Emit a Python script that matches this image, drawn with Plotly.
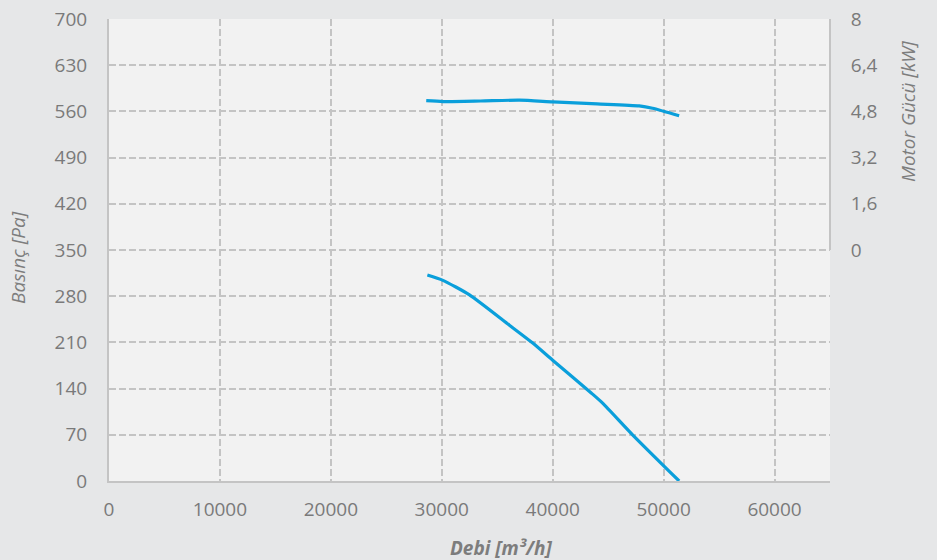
import plotly.graph_objects as go

# Pressure curve (left axis, Pa)
flow_p = [28700, 30100, 32500, 36100, 38200, 40000, 43500, 44500, 47200, 51400]
pressure = [312, 304, 282, 236, 209, 183, 133, 118, 70, 0]

# Motor power curve (right axis, kW)
flow_m = [28600, 30100, 33500, 37000, 40000, 44000, 47800, 49000, 51400]
power = [5.17, 5.14, 5.16, 5.19, 5.13, 5.06, 4.99, 4.91, 4.65]

x_ticks = [0, 10000, 20000, 30000, 40000, 50000, 60000]
x_labels = ["0", "10000", "20000", "30000", "40000", "50000", "60000"]
y_ticks = [0, 70, 140, 210, 280, 350, 420, 490, 560, 630, 700]
y2_ticks = [0, 1.6, 3.2, 4.8, 6.4, 8]
y2_labels = ["0", "1,6", "3,2", "4,8", "6,4", "8"]

line_color = "#0a9fdb"
grid_color = "#c4c4c4"
tick_color = "#7a7a7a"
font_family = "Open Sans"
dash = "7px,3px"

fig = go.Figure()
fig.add_trace(go.Scatter(x=flow_p, y=pressure, mode="lines", line=dict(color=line_color, width=3.2, shape="spline", smoothing=0.6), yaxis="y", showlegend=False))
fig.add_trace(go.Scatter(x=flow_m, y=power, mode="lines", line=dict(color=line_color, width=3.2, shape="spline", smoothing=0.6), yaxis="y2", showlegend=False))

fig.update_layout(
    width=937, height=560,
    margin=dict(l=109, r=107, t=19, b=79),
    paper_bgcolor="#e6e7e8",
    plot_bgcolor="#f2f2f2",
    font=dict(family=font_family, color=tick_color, size=19),
    xaxis=dict(range=[0, 65000], tickvals=x_ticks, ticktext=x_labels, showgrid=True, gridcolor=grid_color, griddash=dash, gridwidth=1.5,
               showline=True, linecolor="#c4c4c4", linewidth=2, zeroline=False, ticks="outside", ticklen=10, tickcolor="rgba(0,0,0,0)",
               tickfont=dict(size=19, color=tick_color), automargin=False),
    yaxis=dict(range=[0, 700], tickvals=y_ticks, showgrid=True, gridcolor=grid_color, griddash=dash, gridwidth=1.5,
               showline=True, linecolor="#c4c4c4", linewidth=2, zeroline=False, ticks="outside", ticklen=16, tickcolor="rgba(0,0,0,0)",
               tickfont=dict(size=19, color=tick_color), automargin=False),
    yaxis2=dict(range=[-8, 8], tickvals=y2_ticks, ticktext=y2_labels, overlaying="y", side="right", showgrid=False,
                showline=False, zeroline=False, ticks="outside", ticklen=16, tickcolor="rgba(0,0,0,0)",
                tickfont=dict(size=19, color=tick_color), automargin=False),
)

# right axis line only on upper half
fig.add_shape(type="line", xref="paper", yref="paper", x0=1, x1=1, y0=0.5, y1=1, line=dict(color="#c4c4c4", width=2))

fig.add_annotation(text="<b><i>Debi [m³/h]</i></b>", xref="paper", yref="paper", x=(501 - 109) / 721, y=-(548 - 481) / 462,
                   showarrow=False, xanchor="center", yanchor="middle", font=dict(size=19, color="#7d7d7d", family=font_family))
fig.add_annotation(text="<i>Basınç [Pa]</i>", xref="paper", yref="paper", x=-(109 - 18) / 721, y=(481 - 258) / 462,
                   showarrow=False, xanchor="center", yanchor="middle", textangle=-90, font=dict(size=19, color="#7d7d7d", family=font_family))
fig.add_annotation(text="<i>Motor Gücü [kW]</i>", xref="paper", yref="paper", x=1 + (908 - 830) / 721, y=(481 - 112) / 462,
                   showarrow=False, xanchor="center", yanchor="middle", textangle=-90, font=dict(size=19, color="#7d7d7d", family=font_family))

fig.write_html("out.html", config={"displayModeBar": False},
               post_script="document.body.style.margin='0';document.body.style.overflow='hidden';")
